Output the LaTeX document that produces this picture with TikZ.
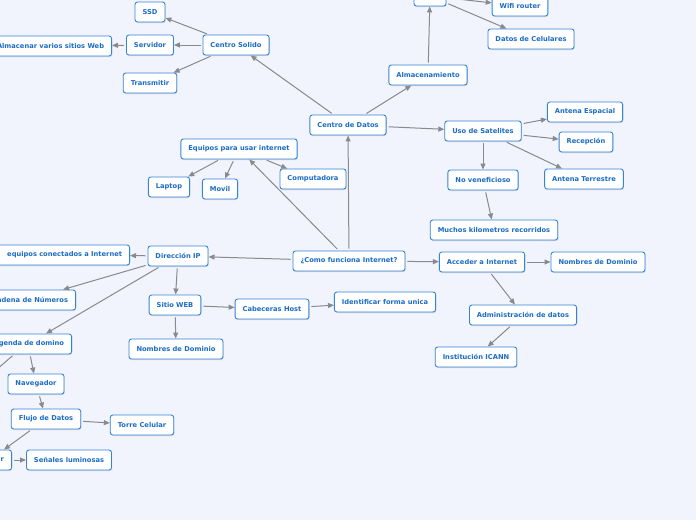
\documentclass[tikz,border=0pt]{standalone}
\usepackage{fontspec}
\newfontfamily\mapfont{DejaVu Sans}
\usepackage{xcolor}
\usepackage{tikz}
\usetikzlibrary{arrows.meta,shadows}
\definecolor{mapbg}{HTML}{F1F4FC}
\definecolor{mapline}{HTML}{3385DA}
\definecolor{maptext}{HTML}{1C6CC6}
\definecolor{maparrow}{HTML}{8A8A8E}

\begin{document}
\begin{tikzpicture}[
  x=1pt, y=-1pt,
  font=\mapfont\bfseries\fontsize{6.7}{7.7}\selectfont,
  every node/.style={align=center},
  topic/.style={
    draw=mapline, rounded corners=2.5pt, fill=white, text=maptext,
    inner xsep=7.5pt, inner ysep=2pt, minimum height=20pt,
    line width=0.9pt,
    drop shadow={shadow xshift=0.6pt, shadow yshift=-1pt, opacity=0.25, fill=gray}
  },
  cut/.style={topic, anchor=east, text width=#1, align=right},
  arr/.style={draw=maparrow, -{Triangle[length=6pt,width=5pt]}, line width=1pt, shorten <=2pt}
]
\fill[mapbg] (0,0) rectangle (696,520);
\useasboundingbox (0,0) rectangle (696,520);

\node[topic] (ssd) at (150,12) {SSD};
\node[topic] (solido) at (236,45) {Centro Solido};
\node[topic] (servidor) at (150,45) {Servidor};
\node[topic, anchor=east] (almsitios) at (112,46) {Almacenar varios sitios Web};
\node[topic] (transmitir) at (150,83) {Transmitir};

\node[topic, minimum width=32pt] (cima) at (430,-4) {};
\node[topic] (wifi) at (520,6) {Wifi router};
\node[topic] (celulares) at (531,39) {Datos de Celulares};
\node[topic] (almacen) at (428,75) {Almacenamiento};
\node[topic] (datos) at (348,125) {Centro de Datos};

\node[topic] (satelites) at (483,131) {Uso de Satelites};
\node[topic] (espacial) at (585,112) {Antena Espacial};
\node[topic] (recepcion) at (586,142) {Recepción};
\node[topic] (terrestre) at (584,179) {Antena Terrestre};
\node[topic] (nobenef) at (483,180) {No veneficioso};
\node[topic] (kilometros) at (494,230) {Muchos kilometros recorridos};

\node[topic] (equipos) at (239,149) {Equipos para usar internet};
\node[topic] (laptop) at (169,187) {Laptop};
\node[topic] (movil) at (220,189) {Movil};
\node[topic] (compu) at (313,179) {Computadora};

\node[topic] (central) at (349,261) {¿Como funciona Internet?};
\node[topic] (acceder) at (482,262) {Acceder a Internet};
\node[topic] (dominios) at (598,262) {Nombres de Dominio};
\node[topic] (admin) at (523,315) {Administración de datos};
\node[topic] (icann) at (476,357) {Institución ICANN};

\node[topic] (dirip) at (178,256) {Dirección IP};
\node[cut=150pt] (conectados) at (130,255) {equipos conectados a Internet};
\node[topic, anchor=east] (cadena) at (76,300) {Cadena de Números};
\node[cut=110pt] (domino) at (72,344) {genda de domino};
\coordinate (fuera) at (-20,384);
\node[topic] (sitio) at (175,305) {Sitio WEB};
\node[topic] (cabeceras) at (272,309) {Cabeceras Host};
\node[topic] (identificar) at (385,302) {Identificar forma unica};
\node[topic] (dominioweb) at (176,349) {Nombres de Dominio};

\node[topic] (navegador) at (36,384) {Navegador};
\node[topic] (flujo) at (46,419) {Flujo de Datos};
\node[topic] (torre) at (142,425) {Torre Celular};
\node[cut=60pt] (final) at (12,460) {r};
\node[topic] (senales) at (69,460) {Señales luminosas};

\draw[arr] (solido) -- (ssd);
\draw[arr] (solido) -- (servidor);
\draw[arr] (solido) -- (transmitir);
\draw[arr] (servidor) -- (almsitios);
\draw[arr] (datos) -- (solido);
\draw[arr] (datos) -- (almacen);
\draw[arr] (almacen) -- (cima);
\draw[arr] (cima) -- (wifi);
\draw[arr] (cima) -- (celulares);
\draw[arr] (datos) -- (satelites);
\draw[arr] (satelites) -- (espacial);
\draw[arr] (satelites) -- (recepcion);
\draw[arr] (satelites) -- (terrestre);
\draw[arr] (satelites) -- (nobenef);
\draw[arr] (nobenef) -- (kilometros);

\draw[arr] (central) -- (datos);
\draw[arr] (central) -- (equipos);
\draw[arr] (equipos) -- (laptop);
\draw[arr] (equipos) -- (movil);
\draw[arr] (equipos) -- (compu);
\draw[arr] (central) -- (acceder);
\draw[arr] (acceder) -- (dominios);
\draw[arr] (acceder) -- (admin);
\draw[arr] (admin) -- (icann);

\draw[arr] (central) -- (dirip);
\draw[arr] (dirip) -- (conectados);
\draw[arr] (dirip) -- ([xshift=-13pt]cadena.north east);
\draw[arr] (dirip) -- ([xshift=-26pt]domino.north east);
\draw[arr] (dirip) -- (sitio);
\draw[arr] (sitio) -- (cabeceras);
\draw[arr] (sitio) -- (dominioweb);
\draw[arr] (cabeceras) -- (identificar);

\draw[arr] ([xshift=-42pt]domino.south east) -- (navegador);
\draw[arr] ([xshift=-58pt]domino.south east) -- (fuera);
\draw[arr] (navegador) -- (flujo);
\draw[arr] (flujo) -- (torre);
\draw[arr] (flujo) -- ([xshift=-8pt]final.north east);
\draw[arr] (final) -- (senales);

\end{tikzpicture}
\end{document}
